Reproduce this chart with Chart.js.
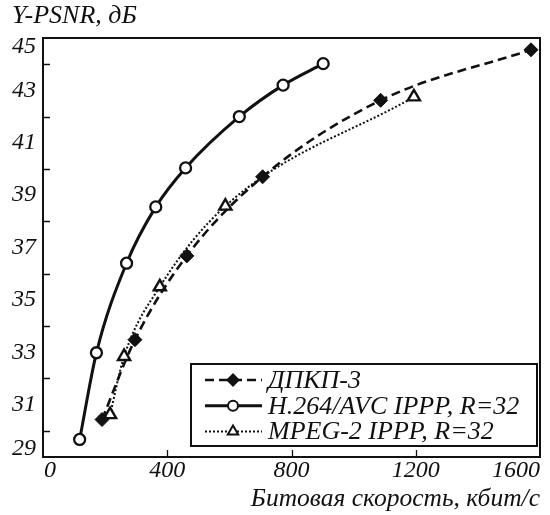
<!DOCTYPE html>
<html>
<head>
<meta charset="utf-8">
<script src="https://cdn.jsdelivr.net/npm/chart.js@4.4.1/dist/chart.umd.min.js"></script>
<style>
  html, body { margin: 0; padding: 0; background: #fff; }
  #wrap { width: 550px; height: 515px; }
</style>
</head>
<body>
<div id="wrap"><canvas id="psnrChart" width="550" height="515"></canvas></div>
<script>
const seriesNames = ['ДПКП-3', 'H.264/AVC IPPP, R=32', 'MPEG-2 IPPP, R=32'];

const dpkpRate = [190, 296, 463, 707, 1087, 1571];
const dpkpPsnr = [30.43, 33.48, 36.68, 39.7, 42.62, 44.55];

const h264Rate = [118, 172, 269, 363, 459, 632, 773, 902];
const h264Psnr = [29.67, 32.98, 36.4, 38.55, 40.04, 42.0, 43.2, 44.02];

const mpeg2Rate = [216, 261, 376, 587, 1194];
const mpeg2Psnr = [30.62, 32.84, 35.5, 38.58, 42.75];

const xTicks = [0, 400, 800, 1200, 1600];
const yLabelTicks = [29, 31, 33, 35, 37, 39, 41, 43, 45];
const yMinorTicks = [30, 32, 34, 36, 38, 40, 42, 44];

const xTitle = 'Битовая скорость, кбит/с';
const yTitle = 'Y-PSNR, дБ';

const SERIF = '"Liberation Serif", "Times New Roman", serif';
const font = (px) => 'italic ' + px + 'px ' + SERIF;

function toPoints(xs, ys) {
  return xs.map((x, i) => ({ x: x, y: ys[i] }));
}

// axes box, inward ticks, labels, titles and the boxed legend
const framePlugin = {
  id: 'frame',
  afterDraw(chart) {
    const { ctx, chartArea: a, scales } = chart;
    const xs = scales.x, ys = scales.y;
    ctx.save();
    ctx.strokeStyle = '#111';
    ctx.lineWidth = 2;
    ctx.strokeRect(a.left, a.top, a.right - a.left, a.bottom - a.top);

    ctx.lineWidth = 1.3;
    ctx.beginPath();
    yMinorTicks.forEach((v) => {
      const py = Math.round(ys.getPixelForValue(v)) + 0.5;
      ctx.moveTo(a.left, py);
      ctx.lineTo(a.left + 7, py);
    });
    xTicks.slice(1, -1).forEach((v) => {
      const px = Math.round(xs.getPixelForValue(v)) + 0.5;
      ctx.moveTo(px, a.bottom);
      ctx.lineTo(px, a.bottom - 7);
    });
    ctx.stroke();

    ctx.fillStyle = '#111';
    ctx.font = font(24);
    ctx.textAlign = 'right';
    ctx.textBaseline = 'middle';
    yLabelTicks.forEach((v) => {
      let py = ys.getPixelForValue(v);
      py = Math.max(a.top + 9, Math.min(a.bottom - 8, py));
      ctx.fillText(String(v), a.left - 7, py);
    });
    ctx.textBaseline = 'top';
    xTicks.forEach((v, i) => {
      const px = xs.getPixelForValue(v);
      ctx.textAlign = i === 0 ? 'left' : (i === xTicks.length - 1 ? 'right' : 'center');
      ctx.fillText(String(v), px + (i === 0 ? 1 : 0), a.bottom + 2);
    });

    ctx.textBaseline = 'middle';
    ctx.textAlign = 'left';
    ctx.font = font(26);
    ctx.fillText(yTitle, 12, 16);
    ctx.textAlign = 'right';
    ctx.font = font(25.5);
    ctx.fillText(xTitle, a.right, 499);

    // legend
    const box = { x: 191, y: 364, w: 346, h: 82 };
    ctx.fillStyle = '#fff';
    ctx.fillRect(box.x, box.y, box.w, box.h);
    ctx.strokeStyle = '#111';
    ctx.lineWidth = 2;
    ctx.strokeRect(box.x, box.y, box.w, box.h);
    ctx.font = font(26);
    chart.data.datasets.forEach((ds, i) => {
      const cy = 380 + i * 25.8;
      ctx.save();
      ctx.strokeStyle = ds.borderColor;
      ctx.lineWidth = ds.borderWidth;
      ctx.setLineDash(ds.borderDash || []);
      ctx.beginPath();
      ctx.moveTo(205, cy);
      ctx.lineTo(262, cy);
      ctx.stroke();
      ctx.restore();
      ctx.fillStyle = ds.pointBackgroundColor;
      ctx.strokeStyle = ds.pointBorderColor;
      Chart.helpers.drawPoint(ctx, {
        pointStyle: ds.pointStyle,
        radius: ds.legendRadius,
        borderWidth: ds.pointBorderWidth,
        rotation: 0
      }, 233, cy);
      ctx.fillStyle = '#111';
      ctx.textAlign = 'left';
      ctx.fillText(ds.label, 268, cy + 1);
    });
    ctx.restore();
  }
};

new Chart(document.getElementById('psnrChart'), {
  type: 'line',
  data: {
    datasets: [
      {
        label: seriesNames[0],
        data: toPoints(dpkpRate, dpkpPsnr),
        borderColor: '#111',
        borderWidth: 2.6,
        borderDash: [9, 5],
        pointStyle: 'rectRot',
        pointRadius: 7,
        pointBorderWidth: 1,
        pointBackgroundColor: '#111',
        pointBorderColor: '#111',
        legendRadius: 5.5
      },
      {
        label: seriesNames[1],
        data: toPoints(h264Rate, h264Psnr),
        borderColor: '#111',
        borderWidth: 3,
        pointStyle: 'circle',
        pointRadius: 5.5,
        pointBorderWidth: 2.3,
        pointBackgroundColor: '#fff',
        pointBorderColor: '#111',
        legendRadius: 5
      },
      {
        label: seriesNames[2],
        data: toPoints(mpeg2Rate, mpeg2Psnr),
        borderColor: '#111',
        borderWidth: 2,
        borderDash: [2, 2],
        pointStyle: 'triangle',
        pointRadius: 7,
        pointBorderWidth: 2.4,
        pointBackgroundColor: '#fff',
        pointBorderColor: '#111',
        legendRadius: 6
      }
    ]
  },
  options: {
    responsive: false,
    animation: false,
    clip: false,
    cubicInterpolationMode: 'monotone',
    layout: { padding: { top: 38, right: 10, left: 0, bottom: 0 } },
    plugins: {
      legend: { display: false },
      tooltip: { enabled: false },
      title: { display: false }
    },
    scales: {
      x: {
        type: 'linear',
        min: 0,
        max: 1600,
        grid: { display: false },
        border: { display: false },
        ticks: { display: false },
        afterFit(scale) { scale.height = 58; }
      },
      y: {
        type: 'linear',
        min: 29,
        max: 45,
        grid: { display: false },
        border: { display: false },
        ticks: { display: false },
        afterFit(scale) { scale.width = 43; }
      }
    }
  },
  plugins: [framePlugin]
});
</script>
</body>
</html>
